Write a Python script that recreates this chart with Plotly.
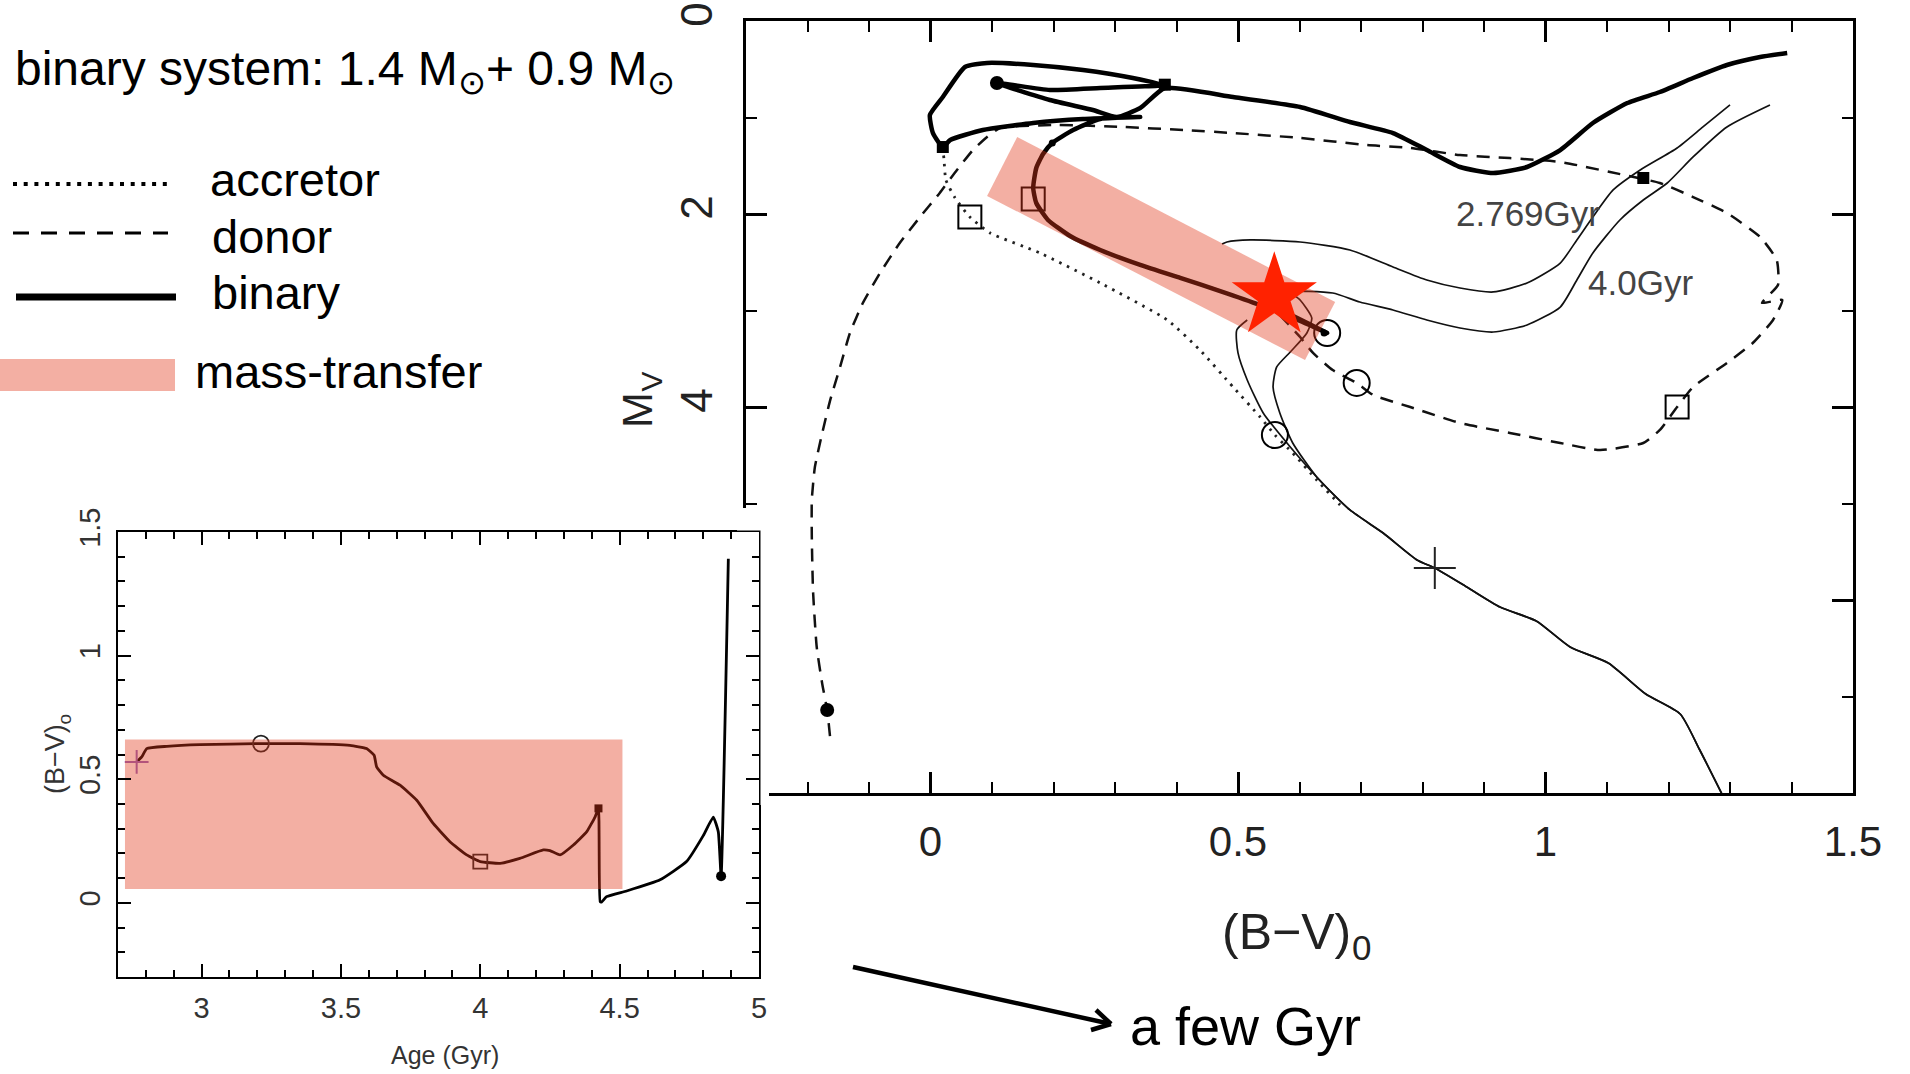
import plotly.graph_objects as go

W, H = 1910, 1074
FONT = "Liberation Sans, Arial, Helvetica, sans-serif"
SYM_FONT = "DejaVu Sans"
SALMON = "rgba(225,55,25,0.40)"
STAR_RED = "#ff2200"

# ---------------- main colour-magnitude diagram: (B-V)0 vs M_V ----------------
# shared lower main sequence of the two isochrones
ms_bv = [1.29, 1.250, 1.219, 1.163, 1.102, 1.040, 0.985, 0.926, 0.872, 0.820, 0.791, 0.736, 0.682, 0.628]
ms_mv = [8.05, 7.544, 7.181, 6.974, 6.653, 6.487, 6.218, 6.073, 5.865, 5.668, 5.585, 5.306, 5.067, 4.725]

# 2.769 Gyr isochrone (turn-off hook + subgiant / giant branch)
iso2769_bv = [0.585, 0.541, 0.515, 0.500, 0.498, 0.515, None,
              0.474, 0.482, 0.520, 0.601, 0.682, 0.752, 0.807, 0.861, 0.915, 0.970,
              1.024, 1.051, 1.077, 1.110, 1.154, 1.214, 1.256, 1.300]
iso2769_mv = [4.415, 4.062, 3.720, 3.440, 3.202, 3.098, None,
              2.311, 2.290, 2.269, 2.290, 2.373, 2.549, 2.684, 2.767, 2.808, 2.715,
              2.508, 2.269, 2.031, 1.751, 1.544, 1.316, 1.098, 0.870]

# 4.0 Gyr isochrone
iso40_bv = [0.589, 0.568, 0.557, 0.563, 0.585, 0.612, 0.620, 0.601, 0.585, 0.654, 0.698,
            0.752, 0.807, 0.861, 0.915, 0.970, 1.024, 1.051, 1.077, 1.121, 1.159, 1.198,
            1.240, 1.295, 1.365]
iso40_mv = [4.373, 4.062, 3.793, 3.585, 3.430, 3.233, 3.078, 2.891, 2.808, 2.819, 2.912,
            2.995, 3.098, 3.181, 3.223, 3.150, 2.964, 2.684, 2.404, 2.062, 1.855, 1.679,
            1.409, 1.098, 0.870]

# binary (combined light) track
binary_bv = [0.570, 0.645, 0.601, 0.536, 0.471, 0.406, 0.341, 0.276, 0.227, 0.191, 0.172,
             0.167, 0.172, 0.183, 0.198, 0.232, 0.276, 0.341, 0.248, 0.167, 0.085, 0.032,
             0.020, 0.004, -0.001, 0.020, 0.056, 0.092, 0.167, 0.248, 0.329, 0.378, 0.276,
             0.194, 0.108, 0.194, 0.264, 0.303, 0.341, 0.381, 0.492, 0.601, 0.682, 0.752,
             0.807, 0.861, 0.915, 0.970, 1.024, 1.077, 1.133, 1.186, 1.240, 1.295, 1.349, 1.393]
binary_mv = [2.995, 3.233, 3.109, 2.943, 2.798, 2.663, 2.528, 2.373, 2.228, 2.062, 1.886,
             1.731, 1.523, 1.378, 1.264, 1.130, 1.016, 0.995, 1.016, 1.057, 1.130, 1.233,
             1.306, 1.161, 0.974, 0.788, 0.477, 0.435, 0.456, 0.508, 0.591, 0.663, 0.694,
             0.715, 0.642, 0.819, 0.922, 0.995, 0.902, 0.694, 0.788, 0.891, 1.047, 1.161,
             1.337, 1.513, 1.575, 1.513, 1.337, 1.057, 0.850, 0.736, 0.591, 0.456, 0.373, 0.332]

# donor track
donor_bv = [0.568, 0.601, 0.622, 0.654, 0.693, 0.720, 0.780, 0.861, 0.942, 1.024, 1.089,
            1.159, 1.186, 1.214, 1.240, 1.295, 1.337, 1.370, 1.385, 1.352, 1.378, 1.376,
            1.349, 1.295, 1.240, 1.186, 1.105, 1.024, 0.942, 0.861, 0.780, 0.710, 0.601,
            0.492, 0.411, 0.313, 0.206, 0.113, 0.092, 0.069, 0.043, 0.015, -0.017, -0.050,
            -0.082, -0.110, -0.131, -0.147, -0.163, -0.176, -0.188, -0.193, -0.193, -0.191,
            -0.185, -0.176, -0.168, -0.163]
donor_mv = [3.047, 3.275, 3.440, 3.617, 3.751, 3.876, 4.000, 4.166, 4.269, 4.373, 4.446,
            4.373, 4.238, 4.000, 3.793, 3.544, 3.337, 3.098, 2.891, 2.922, 2.736, 2.477,
            2.238, 1.990, 1.824, 1.679, 1.565, 1.461, 1.420, 1.389, 1.316, 1.285, 1.212,
            1.161, 1.130, 1.098, 1.078, 1.109, 1.202, 1.337, 1.544, 1.782, 2.031, 2.301,
            2.611, 2.922, 3.233, 3.585, 3.927, 4.269, 4.622, 4.964, 5.337, 5.907, 6.487,
            6.870, 7.140, 7.440]

# accretor track
accretor_bv = [0.020, 0.022, 0.025, 0.040, 0.064, 0.097, 0.178, 0.276, 0.385, 0.438, 0.492,
               0.536, 0.560, 0.589, 0.628, 0.666]
accretor_mv = [1.306, 1.440, 1.648, 1.834, 2.031, 2.197, 2.404, 2.715, 3.098, 3.409, 3.793,
               4.104, 4.290, 4.477, 4.756, 5.016]

# markers on the tracks
open_circle_bv = [0.645, 0.693, 0.560]
open_circle_mv = [3.233, 3.751, 4.290]
open_square_bv = [0.167, 0.064, 1.214]
open_square_mv = [1.845, 2.031, 4.000]
filled_circle_bv = [0.108, -0.168]
filled_circle_mv = [0.642, 7.140]
filled_square_bv = [0.020, 1.159, 0.381]
filled_square_mv = [1.306, 1.627, 0.660]
small_dot_bv = [0.198, 0.640]
small_dot_mv = [1.264, 3.233]
plus_bv = [0.820]
plus_mv = [5.668]

# mass-transfer band (rotated rectangle) and the observed star
band_bv = [0.141, 0.658, 0.609, 0.092, 0.141]
band_mv = [1.202, 2.912, 3.513, 1.813, 1.202]
star_bv = [0.559]
star_mv = [2.850]

iso_labels = ["2.769Gyr", "4.0Gyr"]
iso_label_bv = [0.972, 1.155]
iso_label_mv = [1.990, 2.715]

# ---------------- inset: (B-V)0 of the binary vs age ----------------
age = [2.767, 2.785, 2.803, 2.875, 2.994, 3.213, 3.353, 3.532, 3.592, 3.619, 3.628, 3.652,
       3.712, 3.772, 3.831, 3.891, 3.951, 4.000, 4.071, 4.142, 4.226, 4.250, 4.286, 4.334,
       4.382, 4.412, 4.424, 4.430, 4.436, 4.453, 4.525, 4.645, 4.740, 4.800, 4.836, 4.854,
       4.864, 4.890]
age_bv = [0.570, 0.590, 0.624, 0.633, 0.640, 0.644, 0.644, 0.637, 0.624, 0.597, 0.550, 0.516,
          0.476, 0.415, 0.321, 0.247, 0.194, 0.167, 0.160, 0.180, 0.214, 0.211, 0.194, 0.234,
          0.288, 0.348, 0.382, 0.005, 0.004, 0.025, 0.048, 0.093, 0.167, 0.272, 0.347, 0.287,
          0.108, 1.392]
inset_box_age = [2.725, 4.51, 4.51, 2.725, 2.725]
inset_box_bv = [0.661, 0.661, 0.056, 0.056, 0.661]
inset_marker_age = {"plus": 2.767, "circle": 3.213, "square": 4.0, "fsquare": 4.424, "fcircle": 4.864}
inset_marker_bv = {"plus": 0.570, "circle": 0.644, "square": 0.167, "fsquare": 0.382, "fcircle": 0.108}


def PX(p):
    return p / W


def PY(p):
    return 1 - p / H


fig = go.Figure()
main = dict(xaxis="x", yaxis="y", hoverinfo="skip", showlegend=False)
ins = dict(xaxis="x2", yaxis="y2", hoverinfo="skip", showlegend=False)

# isochrones
fig.add_trace(go.Scatter(x=ms_bv + iso2769_bv, y=ms_mv + iso2769_mv, mode="lines",
                         line=dict(color="#111", width=1.7, shape="spline", smoothing=0.6), **main))
fig.add_trace(go.Scatter(x=ms_bv + iso40_bv, y=ms_mv + iso40_mv, mode="lines",
                         line=dict(color="#111", width=1.7, shape="spline", smoothing=0.6), **main))
# accretor (dotted)
fig.add_trace(go.Scatter(x=accretor_bv, y=accretor_mv, mode="lines",
                         line=dict(color="#222", width=2.8, dash="2.5px,6px", shape="spline", smoothing=0.5), **main))
# donor (dashed)
fig.add_trace(go.Scatter(x=donor_bv, y=donor_mv, mode="lines",
                         line=dict(color="#111", width=2.5, dash="13px,9px", shape="spline", smoothing=0.5), **main))
# binary (thick)
fig.add_trace(go.Scatter(x=binary_bv, y=binary_mv, mode="lines",
                         line=dict(color="black", width=4.5, shape="spline", smoothing=0.5), **main))
# markers
fig.add_trace(go.Scatter(x=open_circle_bv, y=open_circle_mv, mode="markers",
                         marker=dict(symbol="circle-open", size=26, color="black", line=dict(width=2)), **main))
fig.add_trace(go.Scatter(x=open_square_bv, y=open_square_mv, mode="markers",
                         marker=dict(symbol="square-open", size=23, color="black", line=dict(width=2)), **main))
fig.add_trace(go.Scatter(x=filled_circle_bv, y=filled_circle_mv, mode="markers",
                         marker=dict(symbol="circle", size=14, color="black"), **main))
fig.add_trace(go.Scatter(x=filled_square_bv, y=filled_square_mv, mode="markers",
                         marker=dict(symbol="square", size=12, color="black"), **main))
fig.add_trace(go.Scatter(x=small_dot_bv, y=small_dot_mv, mode="markers",
                         marker=dict(symbol="circle", size=7, color="black"), **main))
fig.add_trace(go.Scatter(x=plus_bv, y=plus_mv, mode="markers",
                         marker=dict(symbol="cross-thin-open", size=30, color="#222", line=dict(width=2, color="#222")), **main))
# mass-transfer band
fig.add_trace(go.Scatter(x=band_bv, y=band_mv, mode="lines", fill="toself", fillcolor=SALMON,
                         line=dict(width=0, color="rgba(0,0,0,0)"), **main))
# star
fig.add_trace(go.Scatter(x=star_bv, y=star_mv, mode="markers",
                         marker=dict(symbol="star", size=64, color=STAR_RED, line=dict(width=0)), **main))
# isochrone labels
for t, xv, yv in zip(iso_labels, iso_label_bv, iso_label_mv):
    fig.add_annotation(x=xv, y=yv, xref="x", yref="y", text=t, showarrow=False,
                       font=dict(family=FONT, size=35, color="#444"))

# inset
fig.add_trace(go.Scatter(x=age, y=age_bv, mode="lines",
                         line=dict(color="black", width=2.8, shape="spline", smoothing=0.4), **ins))
fig.add_trace(go.Scatter(x=[inset_marker_age["plus"]], y=[inset_marker_bv["plus"]], mode="markers",
                         marker=dict(symbol="cross-thin-open", size=17, line=dict(width=2, color="#222")), **ins))
fig.add_trace(go.Scatter(x=[inset_marker_age["circle"]], y=[inset_marker_bv["circle"]], mode="markers",
                         marker=dict(symbol="circle-open", size=16, color="#222", line=dict(width=1.8)), **ins))
fig.add_trace(go.Scatter(x=[inset_marker_age["square"]], y=[inset_marker_bv["square"]], mode="markers",
                         marker=dict(symbol="square-open", size=14, color="#222", line=dict(width=1.8)), **ins))
fig.add_trace(go.Scatter(x=[inset_marker_age["fsquare"]], y=[inset_marker_bv["fsquare"]], mode="markers",
                         marker=dict(symbol="square", size=8, color="black"), **ins))
fig.add_trace(go.Scatter(x=[inset_marker_age["fcircle"]], y=[inset_marker_bv["fcircle"]], mode="markers",
                         marker=dict(symbol="circle", size=10, color="black"), **ins))
fig.add_trace(go.Scatter(x=inset_box_age, y=inset_box_bv, mode="lines", fill="toself", fillcolor=SALMON,
                         line=dict(width=0, color="rgba(0,0,0,0)"), **ins))

ax_common = dict(showgrid=False, zeroline=False, showline=True, linecolor="black", mirror="ticks",
                 ticks="inside", tickcolor="black", fixedrange=True, automargin=False)

fig.update_layout(
    template="none",
    width=W, height=H, autosize=False,
    margin=dict(l=0, r=0, t=0, b=0, pad=0, autoexpand=False),
    paper_bgcolor="white", plot_bgcolor="white",
    showlegend=False,
    xaxis=dict(domain=[PX(746), PX(1853)], range=[-0.3, 1.5], anchor="y",
               tickmode="linear", tick0=0, dtick=0.5, ticklen=21, tickwidth=2.5, linewidth=3,
               tickfont=dict(family=FONT, size=42, color="#222"), ticklabelstandoff=10,
               minor=dict(ticks="inside", ticklen=11, tickwidth=2, tickcolor="black",
                          tickmode="linear", tick0=0, dtick=0.1),
               **ax_common),
    yaxis=dict(domain=[PY(793), PY(21)], range=[8, 0], anchor="x",
               tickmode="linear", tick0=0, dtick=2, ticklen=21, tickwidth=2.5, linewidth=3,
               tickangle=-90, tickfont=dict(family=FONT, size=44, color="#222"), ticklabelstandoff=13,
               minor=dict(ticks="inside", ticklen=11, tickwidth=2, tickcolor="black",
                          tickmode="linear", tick0=0, dtick=1),
               **ax_common),
    xaxis2=dict(domain=[PX(118), PX(759)], range=[2.7, 5], anchor="y2",
                tickmode="linear", tick0=0, dtick=0.5, ticklen=13, tickwidth=2, linewidth=2,
                tickfont=dict(family=FONT, size=29, color="#333"), ticklabelstandoff=4,
                minor=dict(ticks="inside", ticklen=7, tickwidth=1.6, tickcolor="black",
                           tickmode="linear", tick0=0, dtick=0.1),
                **ax_common),
    yaxis2=dict(domain=[PY(977), PY(532)], range=[-0.3, 1.5], anchor="x2",
                tickmode="linear", tick0=0, dtick=0.5, ticklen=13, tickwidth=2, linewidth=2,
                tickangle=-90, tickfont=dict(family=FONT, size=29, color="#333"), ticklabelstandoff=4,
                minor=dict(ticks="inside", ticklen=7, tickwidth=1.6, tickcolor="black",
                           tickmode="linear", tick0=0, dtick=0.1),
                **ax_common),
)

# white patches hiding the main frame where the inset sits over it
fig.add_shape(type="rect", xref="paper", yref="paper", layer="above",
              x0=PX(737), x1=PX(769), y0=PY(530.5), y1=PY(508),
              fillcolor="white", line=dict(width=0))
fig.add_shape(type="rect", xref="paper", yref="paper", layer="above",
              x0=PX(760.5), x1=PX(769), y0=PY(805), y1=PY(530),
              fillcolor="white", line=dict(width=0))

# legend graphics
fig.add_shape(type="line", xref="paper", yref="paper", x0=PX(13), x1=PX(168), y0=PY(184), y1=PY(184),
              line=dict(color="black", width=4, dash="4px,6.7px"))
fig.add_shape(type="line", xref="paper", yref="paper", x0=PX(13), x1=PX(168), y0=PY(233), y1=PY(233),
              line=dict(color="black", width=3, dash="16px,12px"))
fig.add_shape(type="line", xref="paper", yref="paper", x0=PX(16), x1=PX(176), y0=PY(297), y1=PY(297),
              line=dict(color="black", width=7))
fig.add_shape(type="rect", xref="paper", yref="paper", x0=PX(0), x1=PX(175), y0=PY(391), y1=PY(359),
              fillcolor=SALMON, line=dict(width=0))

# arrow towards "a few Gyr"
tail = (853, 967)
tip = (1111, 1024)
head_a = (1091, 1030)
head_b = (1096, 1010)
fig.add_shape(type="line", xref="paper", yref="paper", x0=PX(tail[0]), y0=PY(tail[1]),
              x1=PX(tip[0]), y1=PY(tip[1]), line=dict(color="black", width=4.5))
for hp in (head_a, head_b):
    fig.add_shape(type="line", xref="paper", yref="paper", x0=PX(hp[0]), y0=PY(hp[1]),
                  x1=PX(tip[0]), y1=PY(tip[1]), line=dict(color="black", width=4.5))


def ann(text, x, y, size, xanchor="left", angle=0, color="black", family=FONT):
    fig.add_annotation(x=PX(x), y=PY(y), xref="paper", yref="paper", text=text, showarrow=False,
                       xanchor=xanchor, yanchor="middle", textangle=angle,
                       borderpad=0, borderwidth=0,
                       font=dict(family=family, size=size, color=color))


# title line: main text pieces plus lowered solar symbols
ann("binary system: 1.4 M", 15, 68, 48)
ann("⊙", 457.8, 83, 33.6, family=SYM_FONT)
ann("+ 0.9 M", 486, 68, 48)
ann("⊙", 647.4, 83, 33.6, family=SYM_FONT)

ann("accretor", 210, 180, 47)
ann("donor", 212, 237, 47)
ann("binary", 212, 292, 47)
ann("mass-transfer", 195, 372, 47)
ann("a few Gyr", 1130, 1026, 54)

# main x-axis title (B−V) with lowered 0
ann("(B−V)", 1351, 931.5, 50, xanchor="right", color="#222")
ann("0", 1352, 947, 35, color="#222")
# main y-axis title M with lowered V (rotated)
ann("M", 637, 410, 43, xanchor="center", angle=-90, color="#222")
ann("V", 650.5, 382, 30, xanchor="center", angle=-90, color="#222")
# inset axis titles
ann("Age (Gyr)", 445, 1055, 25, xanchor="center", color="#333")
ann("(B−V)", 55, 759, 27, xanchor="center", angle=-90, color="#333")
ann("o", 63.5, 719, 19, xanchor="center", angle=-90, color="#333")

fig.write_html("out.html", config={"displayModeBar": False})
